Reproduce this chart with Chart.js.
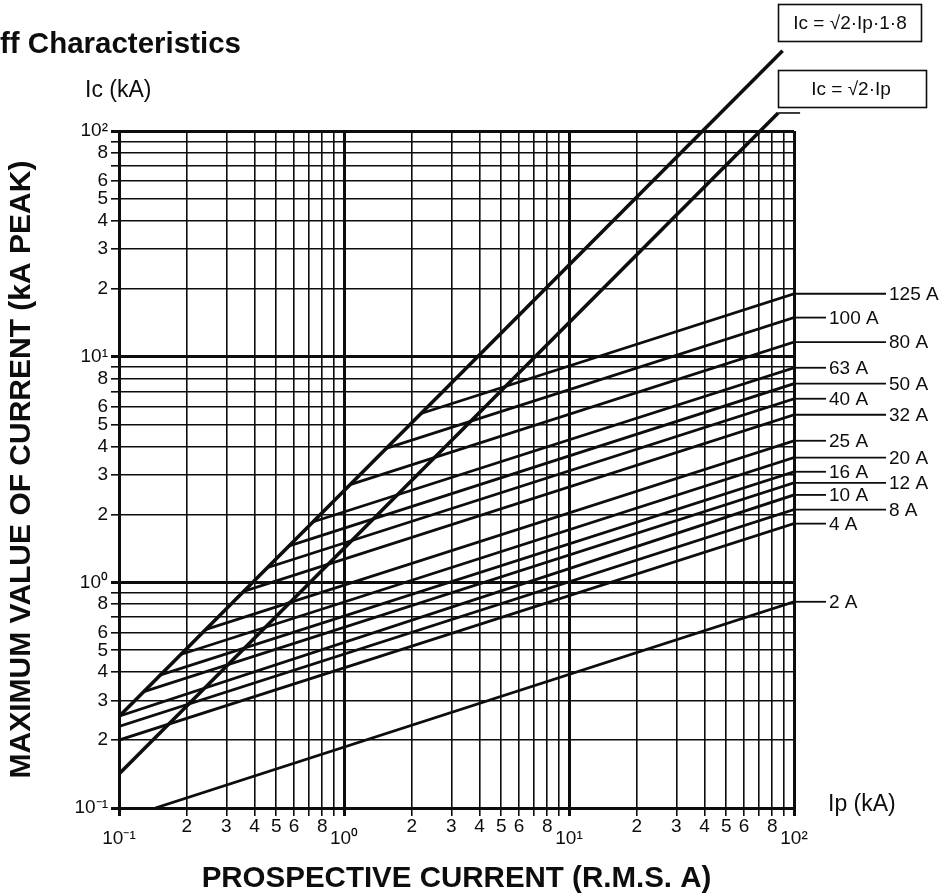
<!DOCTYPE html>
<html>
<head>
<meta charset="utf-8">
<title>Cut-off Characteristics</title>
<script src="https://cdn.jsdelivr.net/npm/chart.js@4/dist/chart.umd.min.js"></script>
<style>
  html, body { margin: 0; padding: 0; background: #fff; }
  #wrap { width: 947px; height: 895px; }
</style>
</head>
<body>
<div id="wrap"><canvas id="myChart" width="947" height="895"></canvas></div>
<script>
// fuse ratings, top of the picture is the last one
const fuseRatings = ['2 A', '4 A', '8 A', '10 A', '12 A', '16 A', '20 A', '25 A', '32 A', '40 A', '50 A', '63 A', '80 A', '100 A', '125 A'];
// where each cut-off line starts (Ip kA, Ic kA)
const startIp = [0.145, 0.1, 0.1, 0.1, 0.129, 0.152, 0.188, 0.242, 0.358, 0.455, 0.571, 0.725, 1.065, 1.54, 2.2];
const startIc = [0.1, 0.2, 0.23, 0.255, 0.328, 0.388, 0.479, 0.617, 0.912, 1.16, 1.45, 1.85, 2.71, 3.92, 5.6];
// value at the right edge, Ip = 100 kA
const endIp = 100;
const endIc = [0.82, 1.82, 2.1, 2.44, 2.76, 3.09, 3.57, 4.24, 5.53, 6.51, 7.59, 8.93, 11.6, 14.9, 19.0];

// Ic = √2·Ip  and  Ic = √2·Ip·1·8
const peakIp = [0.1, 85];
const peakIc = [0.1414, 120.2];
const asymIp = [0.1, 89];
const asymIc = [0.2546, 226.6];

const tickValues = [0.1, 0.2, 0.3, 0.4, 0.5, 0.6, 0.7, 0.8, 0.9,
  1, 2, 3, 4, 5, 6, 7, 8, 9,
  10, 20, 30, 40, 50, 60, 70, 80, 90, 100];
const tickLabels = ['10⁻¹', '2', '3', '4', '5', '6', '', '8', '',
  '10⁰', '2', '3', '4', '5', '6', '', '8', '',
  '10¹', '2', '3', '4', '5', '6', '', '8', '',
  '10²'];

const FONT = '"Liberation Sans", Arial, Helvetica, sans-serif';
const INK = '#0d0d0d';
Chart.defaults.color = INK;
Chart.defaults.font.family = FONT;

function isDecade(v) {
  const l = Math.log10(v);
  return Math.abs(l - Math.round(l)) < 1e-6;
}

const datasets = [];
for (let i = 0; i < fuseRatings.length; i++) {
  datasets.push({
    label: fuseRatings[i],
    data: [{x: startIp[i], y: startIc[i]}, {x: endIp, y: endIc[i]}],
    borderColor: INK,
    borderWidth: 2.8,
    pointRadius: 0
  });
}
datasets.push({
  label: 'Ic = √2·Ip',
  data: peakIp.map((v, i) => ({x: v, y: peakIc[i]})),
  borderColor: INK,
  borderWidth: 3.6,
  pointRadius: 0,
  clip: false
});
datasets.push({
  label: 'Ic = √2·Ip·1·8',
  data: asymIp.map((v, i) => ({x: v, y: asymIc[i]})),
  borderColor: INK,
  borderWidth: 3.6,
  pointRadius: 0,
  clip: false
});

// leader length for each rating label (near / far column)
const leaderLen = [32, 32, 92, 32, 92, 32, 92, 32, 92, 32, 92, 32, 92, 32, 92];

const notes = {
  id: 'notes',
  afterDraw(chart) {
    const ctx = chart.ctx;
    const x = chart.scales.x;
    const y = chart.scales.y;
    const right = chart.chartArea.right;
    ctx.save();
    ctx.strokeStyle = INK;
    ctx.fillStyle = INK;

    // rating labels on the right
    ctx.font = '19px ' + FONT;
    ctx.textBaseline = 'middle';
    ctx.textAlign = 'left';
    ctx.lineWidth = 1.8;
    for (let i = 0; i < fuseRatings.length; i++) {
      const py = y.getPixelForValue(endIc[i]);
      ctx.beginPath();
      ctx.moveTo(right, py);
      ctx.lineTo(right + leaderLen[i], py);
      ctx.stroke();
      ctx.fillText(fuseRatings[i], right + leaderLen[i] + 3, py + 1);
    }

    // boxed formulas at the top
    ctx.lineWidth = 1.6;
    ctx.strokeRect(778.5, 4.5, 143, 37);
    ctx.strokeRect(778.5, 70.5, 148, 37);
    ctx.textAlign = 'center';
    ctx.fillText('Ic = √2·Ip·1·8', 850, 24);
    ctx.fillText('Ic = √2·Ip', 851, 90);
    const ly = y.getPixelForValue(peakIc[1]);
    const lx = x.getPixelForValue(peakIp[1]);
    ctx.beginPath();
    ctx.moveTo(lx, ly);
    ctx.lineTo(lx + 22, ly);
    ctx.stroke();

    // axis unit labels
    ctx.textAlign = 'left';
    ctx.textBaseline = 'alphabetic';
    ctx.font = '23px ' + FONT;
    ctx.fillText('Ic (kA)', 85, 97);
    ctx.fillText('Ip (kA)', 828, 811);

    ctx.font = 'bold 29.5px ' + FONT;
    ctx.fillText('ff Characteristics', 0, 53);
    ctx.restore();
  }
};

const gridStyle = {
  color: INK,
  lineWidth: (c) => (c.tick && isDecade(c.tick.value)) ? 3 : 1.6,
  drawTicks: true,
  tickLength: 8
};

const ctx = document.getElementById('myChart');
let chart = new Chart(ctx, {
  type: 'line',
  data: { datasets: datasets },
  options: {
    responsive: false,
    animation: false,
    layout: { padding: { top: 131, right: 153, left: 0, bottom: 0 } },
    plugins: { legend: { display: false }, tooltip: { enabled: false } },
    scales: {
      x: {
        type: 'logarithmic',
        min: 0.1,
        max: 100,
        afterBuildTicks: (s) => { s.ticks = tickValues.map(v => ({value: v})); },
        afterFit: (s) => { s.height = 87; },
        grid: gridStyle,
        border: { display: true, width: 3, color: INK },
        ticks: {
          autoSkip: false,
          maxRotation: 0,
          padding: 5,
          color: INK,
          font: { size: 19, lineHeight: 0.63 },
          callback: (v, i) => tickLabels[i].startsWith('10') ? ['', tickLabels[i]] : tickLabels[i]
        },
        title: {
          display: true,
          text: 'PROSPECTIVE CURRENT (R.M.S. A)',
          color: INK,
          font: { size: 29.5, weight: 'bold', lineHeight: 1 },
          padding: { top: 0, bottom: 1.5 }
        }
      },
      y: {
        type: 'logarithmic',
        min: 0.1,
        max: 100,
        afterBuildTicks: (s) => { s.ticks = tickValues.map(v => ({value: v})); },
        afterFit: (s) => { s.width = 119; },
        grid: gridStyle,
        border: { display: true, width: 3, color: INK },
        ticks: {
          autoSkip: false,
          padding: 3,
          color: INK,
          font: { size: 19 },
          callback: (v, i) => tickLabels[i]
        },
        title: {
          display: true,
          text: 'MAXIMUM VALUE OF CURRENT (kA PEAK)',
          color: INK,
          font: { size: 30, weight: 'bold', lineHeight: 1 },
          padding: { top: 7, bottom: 0 }
        }
      }
    }
  },
  plugins: [notes]
});
</script>
</body>
</html>
